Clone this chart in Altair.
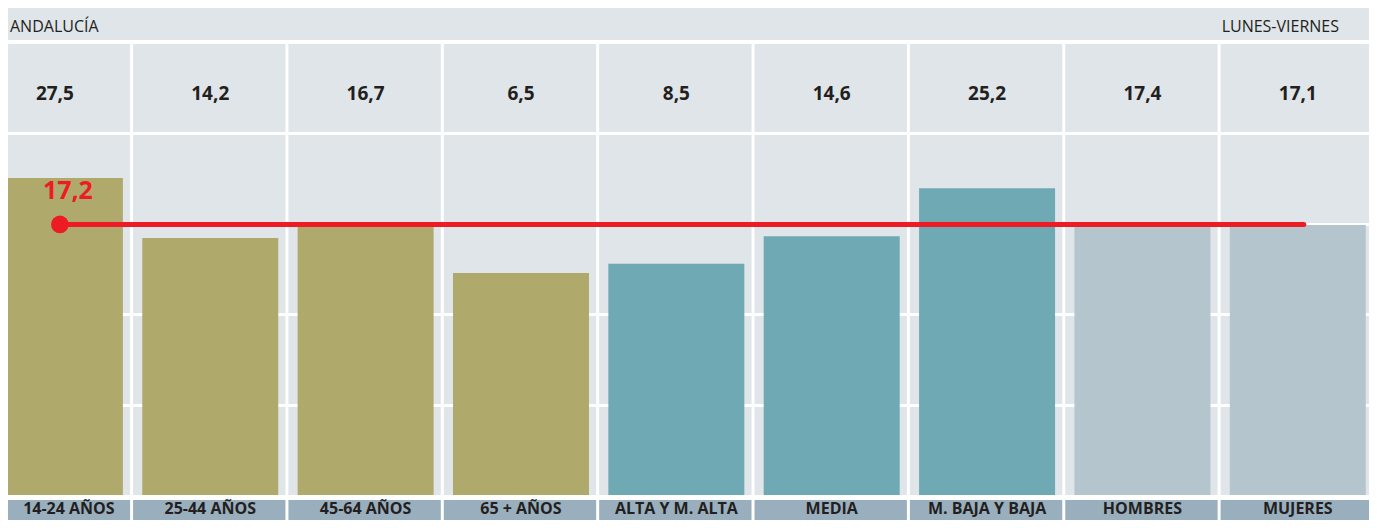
import altair as alt
import pandas as pd

# ---- data ----
categories = ["14-24 AÑOS", "25-44 AÑOS", "45-64 AÑOS", "65 + AÑOS",
              "ALTA Y M. ALTA", "MEDIA", "M. BAJA Y BAJA", "HOMBRES", "MUJERES"]
values = [27.5, 14.2, 16.7, 6.5, 8.5, 14.6, 25.2, 17.4, 17.1]
groups = ["edad", "edad", "edad", "edad",
          "estudios", "estudios", "estudios", "sexo", "sexo"]
average = 17.2
region_label = "ANDALUCÍA"
period_label = "LUNES-VIERNES"

df = pd.DataFrame({
    "cat": categories,
    "value": values,
    "label": [f"{v:.1f}".replace(".", ",") for v in values],
    "group": groups,
    "idx": list(range(len(categories))),
})
avg_df = pd.DataFrame({"avg": [average], "label": [f"{average:.1f}".replace(".", ",")],
                       "start": [0], "end": [len(categories) - 1]})
one = alt.Data(values=[{"a": 1}])

# ---- style ----
W, H = 1377, 528
BG = "#dfe5e9"
BAND = "#9aafbd"
TXT = "#231f20"
RED = "#ed1c24"
FONT = "Open Sans"

xscale = alt.Scale(domain=[-0.3147, 8.4840], range=[0, W], nice=False, zero=False)
yscale = alt.Scale(domain=[-42.6, 37.2], range=[495, 134], nice=False, zero=False)


def box(x0, x1, y0, y1, color):
    return alt.Chart(one).mark_rect(color=color).encode(
        x=alt.value(x0), x2=alt.value(x1), y=alt.value(y0), y2=alt.value(y1))


top_line = box(0, W, 0, 3, "#1a8f9a")
header = box(0, W, 7, 40, BG)
block = box(0, W, 44, 495, BG)
band = box(0, W, 500, H, BAND)
hlines = [box(0, W, y0, y0 + 3, "white") for y0 in (132, 223, 313, 404)]

gutters = alt.Chart(df).transform_filter(
    alt.datum.idx < len(categories) - 1
).transform_calculate(g="datum.idx + 0.5").mark_rule(
    color="white", strokeWidth=3
).encode(
    x=alt.X("g:Q", scale=xscale, axis=None),
    y=alt.value(44), y2=alt.value(H),
)

bars = alt.Chart(df).mark_bar(width=136, xOffset=1).encode(
    x=alt.X("idx:Q", scale=xscale, axis=None),
    y=alt.Y("value:Q", scale=yscale, axis=None),
    y2=alt.Y2Datum(-42.6),
    color=alt.Color("group:N", legend=None,
                    scale=alt.Scale(domain=["edad", "estudios", "sexo"],
                                    range=["#afaa6b", "#6fa9b4", "#b5c5cd"])),
)

avg_line = alt.Chart(avg_df).mark_rule(
    color=RED, strokeWidth=5, strokeCap="round", xOffset=6, x2Offset=7
).encode(
    x=alt.X("start:Q", scale=xscale, axis=None),
    x2="end:Q",
    y=alt.Y("avg:Q", scale=yscale, axis=None),
)
avg_dot = alt.Chart(avg_df).mark_circle(color=RED, opacity=1, size=314, xOffset=6).encode(
    x=alt.X("start:Q", scale=xscale, axis=None),
    y=alt.Y("avg:Q", scale=yscale, axis=None),
)
avg_text = alt.Chart(avg_df).mark_text(
    color=RED, font=FONT, fontSize=25, fontWeight="bold",
    align="center", baseline="alphabetic", dx=14, dy=-25
).encode(
    x=alt.X("start:Q", scale=xscale, axis=None),
    y=alt.Y("avg:Q", scale=yscale, axis=None),
    text="label:N",
)

value_text = alt.Chart(df).mark_text(
    color=TXT, font=FONT, fontSize=19, fontWeight="bold",
    align="center", baseline="alphabetic", dx=1
).encode(
    x=alt.X("idx:Q", scale=xscale, axis=None),
    y=alt.value(100),
    text="label:N",
)

# first column is cropped at the left edge: nudge its label so it stays readable
cat_text = alt.Chart(df).transform_calculate(
    pos="datum.idx == 0 ? 0.09 : datum.idx"
).mark_text(
    color=TXT, font=FONT, fontSize=16, fontWeight="bold",
    align="center", baseline="alphabetic", dx=1
).encode(
    x=alt.X("pos:Q", scale=xscale, axis=None),
    y=alt.value(514),
    text="cat:N",
)

region = alt.Chart(one).mark_text(
    color=TXT, font=FONT, fontSize=16, align="left", baseline="alphabetic"
).encode(x=alt.value(10), y=alt.value(32), text=alt.value(region_label))
period = alt.Chart(one).mark_text(
    color=TXT, font=FONT, fontSize=16, align="right", baseline="alphabetic"
).encode(x=alt.value(1339), y=alt.value(32), text=alt.value(period_label))

chart = alt.layer(
    top_line, header, block, band, *hlines, gutters, bars,
    avg_line, avg_dot, avg_text, value_text, cat_text, region, period
).properties(
    width=W, height=H,
    padding={"left": -8, "top": -8, "right": -8, "bottom": -8},
    autosize="none",
    background="white",
).configure_view(stroke=None)

chart.save("out.html", embed_options={"renderer": "svg", "actions": False})
